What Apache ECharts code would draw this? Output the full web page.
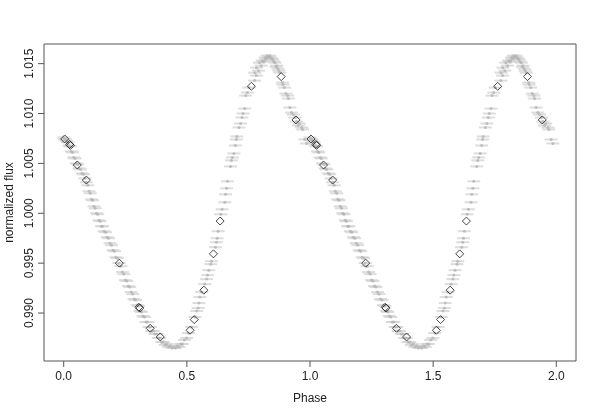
<!DOCTYPE html>
<html lang="en">
<head>
    <meta charset="UTF-8">
    <title>Phase folded light curve</title>
    <script src="https://cdn.jsdelivr.net/npm/echarts@6/dist/echarts.min.js"></script>
    <style>
        html, body { margin: 0; padding: 0; background: #fff; }
        #main { width: 598px; height: 415px; }
    </style>
</head>
<body>
<div id="main"></div>

<script>
    // one cycle of phase, drawn at phase and phase + 1
    var greyPhase = [0.000, 0.004, 0.008, 0.012, 0.017, 0.021, 0.026, 0.031, 0.036, 0.041,
        0.046, 0.051, 0.057, 0.062, 0.068, 0.074, 0.080, 0.086, 0.092, 0.098,
        0.103, 0.108, 0.113, 0.118, 0.123, 0.128, 0.133, 0.138, 0.143, 0.148,
        0.153, 0.158, 0.164, 0.170, 0.176, 0.182, 0.188, 0.194, 0.200, 0.206,
        0.212, 0.218, 0.224, 0.232, 0.238, 0.244, 0.250, 0.256, 0.262, 0.268,
        0.274, 0.280, 0.286, 0.292, 0.298, 0.304, 0.310, 0.316, 0.322, 0.328,
        0.334, 0.340, 0.346, 0.352, 0.358, 0.364, 0.370, 0.377, 0.384, 0.391,
        0.398, 0.405, 0.412, 0.419, 0.426, 0.433, 0.440, 0.447, 0.454, 0.461,
        0.468, 0.475, 0.482, 0.490, 0.499, 0.506, 0.520, 0.533,
        0.540, 0.546, 0.549, 0.553, 0.560, 0.573, 0.580, 0.584, 0.589, 0.597,
        0.600, 0.616, 0.620, 0.623, 0.627, 0.638, 0.643, 0.654, 0.657, 0.661,
        0.665, 0.677, 0.681, 0.685, 0.691, 0.697, 0.701, 0.703, 0.712, 0.718,
        0.724, 0.728, 0.735, 0.739, 0.746, 0.752, 0.775, 0.776, 0.782, 0.783,
        0.791, 0.795, 0.802, 0.806, 0.810, 0.815, 0.818, 0.822, 0.826, 0.829,
        0.833, 0.837, 0.841, 0.845, 0.849, 0.853, 0.858, 0.862, 0.865, 0.870,
        0.874, 0.878, 0.888, 0.890, 0.896, 0.902, 0.909, 0.912, 0.918, 0.925,
        0.932, 0.940, 0.946, 0.952, 0.957, 0.966, 0.970, 0.979, 0.986];
    var greyFlux = [1.0076, 1.0074, 1.0074, 1.0072, 1.0071, 1.0068, 1.0067, 1.0062, 1.0061, 1.0056,
        1.0055, 1.0050, 1.0049, 1.0045, 1.0044, 1.0040, 1.0039, 1.0035, 1.0031, 1.0028,
        1.0022, 1.0020, 1.0014, 1.0013, 1.0007, 1.0005, 1.0000, 0.9999, 0.9993, 0.9992,
        0.9987, 0.9987, 0.9982, 0.9981, 0.9976, 0.9975, 0.9970, 0.9968, 0.9963, 0.9962,
        0.9956, 0.9955, 0.9950, 0.9947, 0.9941, 0.9939, 0.9933, 0.9932, 0.9927, 0.9926,
        0.9921, 0.9919, 0.9914, 0.9913, 0.9908, 0.9907, 0.9902, 0.9901, 0.9897, 0.9896,
        0.9891, 0.9891, 0.9886, 0.9886, 0.9882, 0.9882, 0.9879, 0.9879, 0.9875, 0.9875,
        0.9871, 0.9871, 0.9868, 0.9869, 0.9866, 0.9867, 0.9865, 0.9866, 0.9865, 0.9867,
        0.9866, 0.9869, 0.9869, 0.9873, 0.9875, 0.9880, 0.9886, 0.9896,
        0.9902, 0.9905, 0.9910, 0.9916, 0.9921, 0.9929, 0.9934, 0.9938, 0.9943, 0.9949,
        0.9952, 0.9966, 0.9971, 0.9975, 0.9982, 0.9999, 1.0004, 1.0011, 1.0019, 1.0025,
        1.0032, 1.0047, 1.0053, 1.0056, 1.0060, 1.0068, 1.0074, 1.0077, 1.0086, 1.0090,
        1.0096, 1.0100, 1.0105, 1.0118, 1.0121, 1.0126, 1.0133, 1.0141, 1.0138, 1.0146,
        1.0143, 1.0151, 1.0148, 1.0153, 1.0152, 1.0153, 1.0156, 1.0155, 1.0158, 1.0156,
        1.0157, 1.0158, 1.0156, 1.0155, 1.0154, 1.0152, 1.0151, 1.0147, 1.0148, 1.0145,
        1.0143, 1.0141, 1.0131, 1.0129, 1.0126, 1.0120, 1.0118, 1.0115, 1.0106, 1.0101,
        1.0099, 1.0096, 1.0092, 1.0088, 1.0090, 1.0086, 1.0084, 1.0074, 1.0070];

    var binPhase = [0.004, 0.024, 0.027, 0.055, 0.092, 0.226, 0.305, 0.309, 0.351, 0.392,
        0.513, 0.530, 0.569, 0.608, 0.635, 0.762, 0.883, 0.943];
    var binFlux = [1.00745, 1.00690, 1.00680, 1.00484, 1.00333, 0.99500, 0.99058, 0.99050, 0.98847, 0.98760,
        0.98827, 0.98934, 0.99229, 0.99593, 0.99922, 1.01273, 1.01370, 1.00936];

    var xTicks = [0, 0.5, 1, 1.5, 2];
    var yTicks = [0.990, 0.995, 1.000, 1.005, 1.010, 1.015];

    var xMin = -0.08, xMax = 2.08;
    var yMin = 0.98519, yMax = 1.01697;

    function twoCycles(ph, fl) {
        var out = [];
        for (var k = 0; k < 2; k++) {
            for (var i = 0; i < ph.length; i++) {
                out.push([ph[i] + k, fl[i]]);
            }
        }
        return out;
    }

    var greyData = twoCycles(greyPhase, greyFlux);
    var binData = twoCycles(binPhase, binFlux);

    var font = 'Liberation Sans, Arial, sans-serif';
    var tickLen = 6;
    var myChart = echarts.init(document.getElementById('main'));

    // R-style outward ticks, placed through the axis scales
    function xTickItem(params, api) {
        var p = api.coord([api.value(0), yMin]);
        return {
            type: 'line',
            shape: {x1: p[0], y1: p[1], x2: p[0], y2: p[1] + tickLen},
            style: {stroke: '#555', lineWidth: 1}
        };
    }

    function yTickItem(params, api) {
        var p = api.coord([xMin, api.value(1)]);
        return {
            type: 'line',
            shape: {x1: p[0], y1: p[1], x2: p[0] - tickLen, y2: p[1]},
            style: {stroke: '#555', lineWidth: 1}
        };
    }

    var option = {
        animation: false,
        backgroundColor: '#fff',
        grid: {
            left: 44, right: 22, top: 44, bottom: 54,
            containLabel: false,
            outerBoundsMode: 'none',
            show: true, borderColor: '#555', borderWidth: 1
        },
        xAxis: {
            type: 'value',
            min: xMin, max: xMax,
            name: 'Phase',
            nameLocation: 'middle',
            nameGap: 32,
            nameTextStyle: {fontFamily: font, fontSize: 12, color: '#222'},
            axisLine: {show: false, onZero: false},
            axisTick: {show: false},
            axisLabel: {
                fontFamily: font, fontSize: 12, color: '#222', margin: 10,
                customValues: xTicks,
                formatter: function (v) { return v.toFixed(1); }
            },
            splitLine: {show: false}
        },
        yAxis: {
            type: 'value',
            min: yMin, max: yMax,
            name: 'normalized flux',
            nameLocation: 'middle',
            nameGap: 27,
            nameTextStyle: {fontFamily: font, fontSize: 12, color: '#222'},
            axisLine: {show: false, onZero: false},
            axisTick: {show: false},
            axisLabel: {
                fontFamily: font, fontSize: 12, color: '#222', margin: 8, rotate: 90,
                customValues: yTicks,
                formatter: function (v) { return v.toFixed(3); }
            },
            splitLine: {show: false}
        },
        series: [
            {
                name: 'bars',
                type: 'scatter',
                data: greyData,
                symbol: 'rect',
                symbolSize: [13, 2],
                itemStyle: {color: '#d4d4d4'},
                silent: true
            },
            {
                name: 'points',
                type: 'scatter',
                data: greyData,
                symbol: 'circle',
                symbolSize: 3,
                itemStyle: {color: '#b4b4b4'},
                silent: true
            },
            {
                name: 'binned',
                type: 'scatter',
                data: binData,
                symbol: 'diamond',
                symbolSize: 8,
                itemStyle: {color: 'rgba(0,0,0,0)', borderColor: '#1a1a1a', borderWidth: 1},
                silent: true
            },
            {
                name: 'xticks',
                type: 'custom',
                clip: false,
                silent: true,
                data: xTicks.map(function (v) { return [v, yMin]; }),
                renderItem: xTickItem
            },
            {
                name: 'yticks',
                type: 'custom',
                clip: false,
                silent: true,
                data: yTicks.map(function (v) { return [xMin, v]; }),
                renderItem: yTickItem
            }
        ]
    };

    myChart.setOption(option, true);
</script>
</body>
</html>
